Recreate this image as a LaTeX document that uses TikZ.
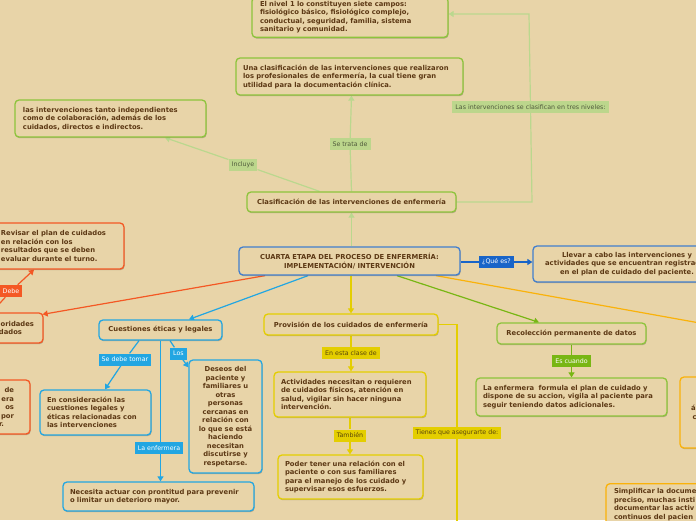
\documentclass[tikz,border=0pt]{standalone}
\usepackage{fontspec}
\setmainfont{DejaVu Sans}
\usetikzlibrary{arrows.meta,shadows}
\definecolor{bgc}{RGB}{232,212,168}
\definecolor{txt}{RGB}{92,56,20}
\definecolor{lgreen}{RGB}{141,196,60}
\definecolor{lgline}{RGB}{186,216,142}
\definecolor{lglab}{RGB}{188,214,140}
\definecolor{lgtxt}{RGB}{80,90,60}
\definecolor{mblue}{RGB}{66,126,206}
\definecolor{dblue}{RGB}{24,100,200}
\definecolor{cyanb}{RGB}{34,166,226}
\definecolor{ored}{RGB}{244,88,36}
\definecolor{yel}{RGB}{228,206,0}
\definecolor{yeltxt}{RGB}{90,70,10}
\definecolor{grn}{RGB}{120,182,20}
\definecolor{amb}{RGB}{250,178,10}
\pgfdeclarelayer{back}
\pgfdeclarelayer{edges}
\pgfsetlayers{back,edges,main}
\begin{document}
\begin{tikzpicture}[x=1pt,y=-1pt,
  box/.style={draw, rounded corners=4pt, line width=1.3pt, fill=bgc, text=txt,
    font=\bfseries\fontsize{6.8}{8.5}\selectfont, inner xsep=8pt, inner ysep=2pt,
    drop shadow={shadow xshift=0.6pt, shadow yshift=-1.2pt, fill=black, opacity=0.22}},
  lab/.style={inner xsep=3pt, inner ysep=0pt, minimum height=12pt, font=\fontsize{6.3}{7}\selectfont},
  glab/.style={lab, fill=lglab, text=lgtxt},
  blab/.style={lab, fill=dblue, text=white},
  clab/.style={lab, fill=cyanb, text=white},
  olab/.style={lab, fill=ored, text=white},
  ylab/.style={lab, fill=yel, text=yeltxt},
  nlab/.style={lab, fill=grn, text=white},
  tip/.style={-{Triangle[length=5pt,width=6pt]}},
  gedge/.style={draw=lgline, line width=1.2pt},
  dedge/.style={draw=dblue, line width=1.2pt},
  oedge/.style={draw=ored, line width=1.2pt},
  cedge/.style={draw=cyanb, line width=1.2pt},
  yedge/.style={draw=yel, line width=1.2pt},
  nedge/.style={draw=grn, line width=1.2pt},
  aedge/.style={draw=amb, line width=1.2pt},
]
\useasboundingbox (0,0) rectangle (696,520);
\begin{pgfonlayer}{back}
\fill[bgc] (0,0) rectangle (696,520);
\end{pgfonlayer}

% boxes
\node[box, draw=lgreen, anchor=south, text width=180pt, align=left, inner ysep=4pt] (nivel1) at (350,38)
  {El nivel 1 lo constituyen siete campos:\\fisiológico básico, fisiológico complejo,\\conductual, seguridad, familia, sistema\\sanitario y comunidad.};
\node[box, draw=lgreen, minimum width=227pt, minimum height=37pt, text width=213pt, inner xsep=7pt, align=left] (una) at (349.5,76.5)
  {Una clasificación de las intervenciones que realizaron\\los profesionales de enfermería, la cual tiene gran\\utilidad para la documentación clínica.};
\node[box, draw=lgreen, minimum width=191pt, minimum height=37pt, text width=175pt, align=left] (lasint) at (110.5,118.5)
  {las intervenciones tanto independientes\\como de colaboración, además de los\\cuidados, directos e indirectos.};
\node[box, draw=lgreen, minimum width=209pt, minimum height=20pt, align=center] (clas) at (351.5,202)
  {Clasificación de las intervenciones de enfermería};
\node[box, draw=mblue, minimum width=221pt, minimum height=28pt, align=center] (main) at (349.5,261)
  {CUARTA ETAPA DEL PROCESO DE ENFERMERÍA:\\IMPLEMENTACIÓN/ INTERVENCIÓN};
\node[box, draw=mblue, minimum width=188pt, minimum height=36pt, inner xsep=4pt, text width=180pt, align=center] (llevar) at (627,264)
  {Llevar a cabo las intervenciones y\\actividades que se encuentran registradas\\en el plan de cuidado del paciente.};
\node[box, draw=ored, minimum width=133pt, minimum height=46pt, inner xsep=10pt, text width=113pt, align=left] (revisar) at (57.5,246)
  {Revisar el plan de cuidados\\en relación con los\\resultados que se deben\\evaluar durante el turno.};
\node[box, draw=ored, minimum width=103pt, minimum height=30pt, inner xsep=9pt, text width=85pt, align=right] (prio) at (-8.5,328)
  {oridades\\dados\hspace*{12pt}};
\node[box, draw=ored, minimum width=100pt, minimum height=54pt, inner xsep=16pt, text width=68pt, align=right] (low) at (-20,407)
  {de\hspace*{1pt}\\era\hspace*{3pt}\\os\hspace*{5pt}\\por\\r.\hspace*{10pt}};
\node[box, draw=cyanb, minimum width=123pt, minimum height=20pt, align=center] (cq) at (160.5,330)
  {Cuestiones éticas y legales};
\node[box, draw=cyanb, minimum width=111pt, minimum height=45pt, text width=97pt, inner xsep=7pt, align=left] (en) at (95.5,412.5)
  {En consideración las\\cuestiones legales y\\éticas relacionadas con\\las intervenciones};
\node[box, draw=cyanb, minimum width=73pt, minimum height=113pt, inner xsep=2pt, text width=69pt, align=center] (deseos) at (225.5,416.5)
  {Deseos del\\paciente y\\familiares u\\otras\\personas\\cercanas en\\relación con\\lo que se está\\haciendo\\necesitan\\discutirse y\\respetarse.};
\node[box, draw=cyanb, minimum width=191pt, minimum height=29pt, text width=177pt, inner xsep=7pt, align=left] (nec) at (158.5,496.5)
  {Necesita actuar con prontitud para prevenir\\o limitar un deterioro mayor.};
\node[box, draw=yel, minimum width=174pt, minimum height=21pt, align=center] (prov) at (351,324.5)
  {Provisión de los cuidados de enfermería};
\node[box, draw=yel, minimum width=152pt, minimum height=45pt, text width=138pt, inner xsep=7pt, align=left] (act) at (350,394.5)
  {Actividades necesitan o requieren\\de cuidados físicos, atención en\\salud, vigilar sin hacer ninguna\\intervención.};
\node[box, draw=yel, minimum width=145pt, minimum height=44pt, text width=131pt, inner xsep=7pt, align=left] (poder) at (350.5,477)
  {Poder tener una relación con el\\paciente o con sus familiares\\para el manejo de los cuidado y\\supervisar esos esfuerzos.};
\node[box, draw=lgreen, minimum width=149pt, minimum height=21pt, align=center] (rec) at (571.5,333.5)
  {Recolección permanente de datos};
\node[box, draw=lgreen, minimum width=191pt, minimum height=38pt, text width=177pt, inner xsep=7pt, align=left] (form) at (571.5,397)
  {La enfermera\ \ formula el plan de cuidado y\\dispone de su accion, vigila al paciente para\\seguir teniendo datos adicionales.};
\node[box, draw=amb, minimum width=120pt, minimum height=71pt, inner xsep=11pt, text width=98pt, align=left] (rbox) at (740,412.5)
  {á\\\hspace*{1.5pt}c};
\node[box, draw=amb, anchor=north, minimum width=174pt, text width=158pt, inner ysep=5pt, align=left] (simp) at (693,483)
  {Simplificar la docume\\preciso, muchas insti\\documentar las activ\\continuos del pacien\\ };

% labels
\node[glab] (setrata) at (350,144) {Se trata de};
\node[glab] (incluye) at (243,164.5) {Incluye};
\node[glab] (tres) at (530.5,107) {Las intervenciones se clasifican en tres niveles:};
\node[blab] (que) at (496.5,262) {¿Qué es?};
\node[olab] (debe) at (11,291) {Debe};
\node[clab] (sedebe) at (125,359.5) {Se debe tomar};
\node[clab] (los) at (178.5,353.5) {Los};
\node[clab] (laenf) at (159,448) {La enfermera};
\node[ylab] (enesta) at (351,353) {En esta clase de};
\node[ylab] (tambien) at (350,435.5) {También};
\node[ylab] (tienes) at (457,433) {Tienes que asegurarte de:};
\node[nlab] (escuando) at (571.5,361) {Es cuando};

\coordinate (c1) at (532,202);
\coordinate (c2) at (529,14);
\coordinate (c3) at (457,324.5);
\coordinate (c4) at (457,540);
\coordinate (c5) at (800,341);

\begin{pgfonlayer}{edges}
\draw[gedge, tip] (clas.south |- main.north) -- (clas.south);
\draw[gedge, tip] (clas.north) -- (setrata) -- (clas.north |- una.south);
\draw[gedge, tip] ([xshift=-32pt]clas.north) -- (incluye) -- ([xshift=54.5pt]lasint.south);
\draw[gedge, tip] (clas.east) -- (c1) -- (tres) -- (c2) -- (c2 -| nivel1.east);
\draw[dedge, tip] (main.east |- que) -- (que) -- (que -| llevar.west);
\draw[oedge, tip] ([xshift=-84.5pt]main.south) -- ([xshift=-1pt,yshift=-2pt]prio.north east);
\draw[oedge, tip] (prio.north) -- (debe) -- ([xshift=-23.5pt]revisar.south);
\draw[cedge, tip] ([xshift=-41.5pt]main.south) -- ([xshift=28.5pt]cq.north);
\draw[cedge, tip] ([xshift=-21.5pt]cq.south) -- (sedebe) -- ([xshift=9.5pt]en.north);
\draw[cedge, tip] ([xshift=9.5pt]cq.south) -- (los) -- ([yshift=-8pt]deseos.north west);
\draw[cedge, tip] (cq.south) -- (cq.south |- nec.north);
\draw[yedge, tip] (prov.north |- main.south) -- (prov.north);
\draw[yedge, tip] (prov.south) -- (enesta) -- (prov.south |- act.north);
\draw[yedge, tip] (act.south) -- (tambien) -- (act.south |- poder.north);
\draw[yedge] (prov.east) -- (c3) -- (tienes) -- (c4);
\draw[nedge, tip] ([xshift=47.5pt]main.south) -- ([xshift=-32.5pt]rec.north);
\draw[nedge, tip] (rec.south) -- (escuando) -- (rec.south |- form.north);
\draw[aedge, tip] ([xshift=86.5pt]main.south) -- (c5);
\end{pgfonlayer}
\end{tikzpicture}
\end{document}
